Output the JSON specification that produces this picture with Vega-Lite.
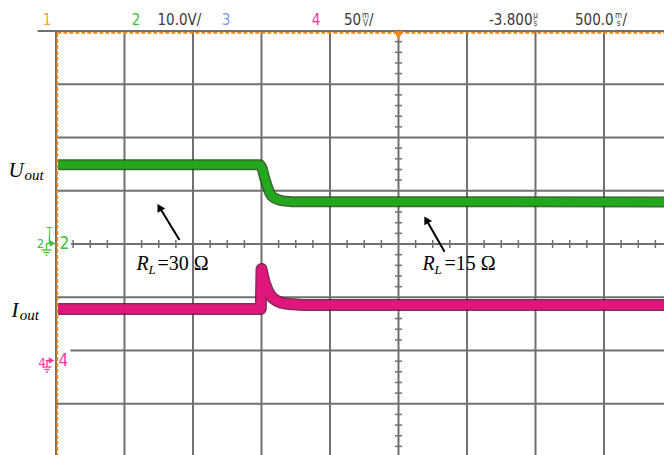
{
"$schema": "https://vega.github.io/schema/vega-lite/v6.json",
"width": 608, "height": 424,
"padding": {"left": 56, "top": 31, "right": 0, "bottom": 0},
"autosize": {"type": "none"},
"background": "white",
"config": {"view": {"stroke": null}},
"datasets": {
 "grid": [
  {"x":0,"x2":0,"y":-3.962,"y2":4},
  {"x":-0.27,"x2":8.876,"y":4,"y2":4},
  {"x":1,"x2":1,"y":-3.962,"y2":4},
  {"x":2,"x2":2,"y":-3.962,"y2":4},
  {"x":3,"x2":3,"y":-3.962,"y2":4},
  {"x":4,"x2":4,"y":-3.962,"y2":4},
  {"x":5,"x2":5,"y":-3.962,"y2":4},
  {"x":6,"x2":6,"y":-3.962,"y2":4},
  {"x":7,"x2":7,"y":-3.962,"y2":4},
  {"x":8,"x2":8,"y":-3.962,"y2":4},
  {"x":0,"x2":8.876,"y":3,"y2":3},
  {"x":0,"x2":8.876,"y":2,"y2":2},
  {"x":0,"x2":8.876,"y":1,"y2":1},
  {"x":0.22,"x2":8.876,"y":0,"y2":0},
  {"x":0,"x2":8.876,"y":-1,"y2":-1},
  {"x":0.21,"x2":8.876,"y":-2,"y2":-2},
  {"x":0,"x2":8.876,"y":-3,"y2":-3}
 ],
 "orange": [
  {"x":0.019,"x2":8.876,"y":3.964,"y2":3.964},
  {"x":0.019,"x2":0.019,"y":3.964,"y2":-3.962}
 ],
 "ticksH": [
  {"x":0.25,"y":0},{"x":0.5,"y":0},{"x":0.75,"y":0},
  {"x":1.25,"y":0},{"x":1.5,"y":0},{"x":1.75,"y":0},
  {"x":2.25,"y":0},{"x":2.5,"y":0},{"x":2.75,"y":0},
  {"x":3.25,"y":0},{"x":3.5,"y":0},{"x":3.75,"y":0},
  {"x":4.25,"y":0},{"x":4.5,"y":0},{"x":4.75,"y":0},
  {"x":5.25,"y":0},{"x":5.5,"y":0},{"x":5.75,"y":0},
  {"x":6.25,"y":0},{"x":6.5,"y":0},{"x":6.75,"y":0},
  {"x":7.25,"y":0},{"x":7.5,"y":0},{"x":7.75,"y":0},
  {"x":8.25,"y":0},{"x":8.5,"y":0},{"x":8.75,"y":0}
 ],
 "ticksV": [
  {"x":5,"y":3.8},{"x":5,"y":3.6},{"x":5,"y":3.4},{"x":5,"y":3.2},
  {"x":5,"y":2.8},{"x":5,"y":2.6},{"x":5,"y":2.4},{"x":5,"y":2.2},
  {"x":5,"y":1.8},{"x":5,"y":1.6},{"x":5,"y":1.4},{"x":5,"y":1.2},
  {"x":5,"y":0.8},{"x":5,"y":0.6},{"x":5,"y":0.4},{"x":5,"y":0.2},
  {"x":5,"y":-0.2},{"x":5,"y":-0.4},{"x":5,"y":-0.6},{"x":5,"y":-0.8},
  {"x":5,"y":-1.2},{"x":5,"y":-1.4},{"x":5,"y":-1.6},{"x":5,"y":-1.8},
  {"x":5,"y":-2.2},{"x":5,"y":-2.4},{"x":5,"y":-2.6},{"x":5,"y":-2.8},
  {"x":5,"y":-3.2},{"x":5,"y":-3.4},{"x":5,"y":-3.6},{"x":5,"y":-3.8}
 ],
 "uout": [
  {"x":0.03,"y":1.49},{"x":2.98,"y":1.49},{"x":3.01,"y":1.42},{"x":3.044,"y":1.25},
  {"x":3.08,"y":1.10},{"x":3.117,"y":0.97},{"x":3.15,"y":0.90},{"x":3.19,"y":0.86},
  {"x":3.25,"y":0.83},{"x":3.31,"y":0.81},{"x":3.45,"y":0.795},{"x":8.876,"y":0.79}
 ],
 "iout": [
  {"x":0.03,"y":-1.22},{"x":2.99,"y":-1.22},{"x":3.0,"y":-0.47},{"x":3.044,"y":-0.71},
  {"x":3.08,"y":-0.84},{"x":3.117,"y":-0.94},{"x":3.16,"y":-1.01},{"x":3.214,"y":-1.06},
  {"x":3.28,"y":-1.10},{"x":3.36,"y":-1.12},{"x":3.6,"y":-1.146},{"x":8.876,"y":-1.146}
 ],
 "trig": [{"x":5,"y":3.916}],
 "hdrDigits": [
  {"x":-0.131,"y":4.113,"t":"1","ch":"1"},
  {"x":1.168,"y":4.113,"t":"2","ch":"2"},
  {"x":2.482,"y":4.113,"t":"3","ch":"3"},
  {"x":3.796,"y":4.113,"t":"4","ch":"4"}
 ],
 "hdrText": [
  {"x":1.482,"y":4.113,"t":"10.0V/"},
  {"x":4.204,"y":4.113,"t":"50"},
  {"x":4.569,"y":4.113,"t":"/"},
  {"x":6.321,"y":4.113,"t":"-3.800"},
  {"x":7.577,"y":4.113,"t":"500.0"},
  {"x":8.270,"y":4.113,"t":"/"}
 ],
 "hdrSmall": [
  {"x":4.518,"y":4.244,"t":"m"},{"x":4.518,"y":4.094,"t":"V"},
  {"x":7.0,"y":4.244,"t":"µ"},{"x":7.0,"y":4.094,"t":"s"},
  {"x":8.212,"y":4.244,"t":"m"},{"x":8.212,"y":4.094,"t":"s"}
 ],
 "chSmall": [
  {"x":-0.226,"y":-0.075,"t":"2","ch":"2"},
  {"x":-0.204,"y":-2.31,"t":"4","ch":"4"}
 ],
 "chBig": [
  {"x":0.051,"y":-0.094,"t":"2","ch":"2"},
  {"x":0.036,"y":-2.291,"t":"4","ch":"4"}
 ],
 "chT": [{"x":-0.095,"y":0.169,"t":"T","ch":"2"}],
 "chTri": [
  {"x":-0.051,"y":0.009,"ch":"2"},
  {"x":-0.066,"y":-2.188,"ch":"4"}
 ],
 "chLines": [
  {"x":-0.095,"x2":-0.095,"y":0.17,"y2":0.009,"ch":"2"},
  {"x":-0.139,"x2":-0.06,"y":0.009,"y2":0.009,"ch":"2"},
  {"x":-0.139,"x2":-0.139,"y":0.009,"y2":-0.113,"ch":"2"},
  {"x":-0.212,"x2":-0.066,"y":-0.113,"y2":-0.113,"ch":"2"},
  {"x":-0.182,"x2":-0.095,"y":-0.160,"y2":-0.160,"ch":"2"},
  {"x":-0.153,"x2":-0.124,"y":-0.207,"y2":-0.207,"ch":"2"},
  {"x":-0.153,"x2":-0.07,"y":-2.188,"y2":-2.188,"ch":"4"},
  {"x":-0.131,"x2":-0.131,"y":-2.188,"y2":-2.310,"ch":"4"},
  {"x":-0.197,"x2":-0.066,"y":-2.310,"y2":-2.310,"ch":"4"},
  {"x":-0.168,"x2":-0.095,"y":-2.357,"y2":-2.357,"ch":"4"},
  {"x":-0.146,"x2":-0.117,"y":-2.404,"y2":-2.404,"ch":"4"}
 ],
 "bigItal": [
  {"x":-0.693,"y":1.258,"t":"U"},
  {"x":-0.650,"y":-1.371,"t":"I"}
 ],
 "subItal": [
  {"x":-0.46,"y":1.202,"t":"out"},
  {"x":-0.53,"y":-1.427,"t":"out"}
 ],
 "rItal": [
  {"x":1.175,"y":-0.488,"t":"R"},
  {"x":5.350,"y":-0.488,"t":"R"}
 ],
 "lSub": [
  {"x":1.35,"y":-0.563,"t":"L"},
  {"x":5.525,"y":-0.563,"t":"L"}
 ],
 "eqText": [
  {"x":1.482,"y":-0.488,"t":"=30 Ω"},
  {"x":5.672,"y":-0.488,"t":"=15 Ω"}
 ],
 "arrowLines": [
  {"x":1.803,"y":0.075,"x2":1.520,"y2":0.670},
  {"x":5.672,"y":-0.145,"x2":5.416,"y2":0.432}
 ],
 "arrowHeads": [
  {"x":1.510,"y":0.690},
  {"x":5.405,"y":0.455}
 ]
},
"encoding": {
 "x": {"field":"x","type":"quantitative","scale":{"domain":[0,8.876],"nice":false,"zero":false},"axis":null},
 "y": {"field":"y","type":"quantitative","scale":{"domain":[-3.962,4],"nice":false,"zero":false},"axis":null}
},
"layer": [
 {"data":{"name":"grid"},"mark":{"type":"rule","color":"#707070","strokeWidth":2},
  "encoding":{"x2":{"field":"x2"},"y2":{"field":"y2"}}},
 {"data":{"name":"ticksH"},"mark":{"type":"tick","orient":"vertical","size":8,"thickness":1.5,"color":"#707070","opacity":1}},
 {"data":{"name":"ticksV"},"mark":{"type":"tick","orient":"horizontal","size":7,"thickness":1.5,"color":"#707070","opacity":1}},
 {"data":{"name":"uout"},"mark":{"type":"line","color":"#1c4a12","strokeWidth":11,"strokeJoin":"round","opacity":0.85},"encoding":{}},
 {"data":{"name":"uout"},"mark":{"type":"line","color":"#22a81c","strokeWidth":8,"strokeJoin":"round"},"encoding":{}},
 {"data":{"name":"iout"},"mark":{"type":"line","color":"#6e0c3c","strokeWidth":12,"strokeJoin":"round","opacity":0.85},"encoding":{}},
 {"data":{"name":"iout"},"mark":{"type":"line","color":"#e0167c","strokeWidth":9,"strokeJoin":"round"},"encoding":{}},
 {"data":{"name":"orange"},"mark":{"type":"rule","color":"#e88a1a","strokeWidth":1.8,"strokeDash":[4,2]},
  "encoding":{"x2":{"field":"x2"},"y2":{"field":"y2"}}},
 {"data":{"name":"trig"},"mark":{"type":"point","shape":"triangle-down","filled":true,"size":90,"color":"#f08a14","opacity":1}},
 {"data":{"name":"hdrDigits"},"mark":{"type":"text","font":"DejaVu Sans Condensed","fontSize":15,"align":"center","baseline":"alphabetic"},
  "encoding":{"text":{"field":"t"},"color":{"field":"ch","type":"nominal","scale":{"domain":["1","2","3","4"],"range":["#f0a040","#3cc03c","#7b98f0","#f0389a"]},"legend":null}}},
 {"data":{"name":"hdrText"},"mark":{"type":"text","font":"DejaVu Sans Condensed","fontSize":15,"align":"left","baseline":"alphabetic","color":"#3a3a3a"},
  "encoding":{"text":{"field":"t"}}},
 {"data":{"name":"hdrSmall"},"mark":{"type":"text","font":"DejaVu Sans Condensed","fontSize":8,"align":"center","baseline":"alphabetic","color":"#3a3a3a"},
  "encoding":{"text":{"field":"t"}}},
 {"data":{"name":"chLines"},"mark":{"type":"rule","strokeWidth":1.3},
  "encoding":{"x2":{"field":"x2"},"y2":{"field":"y2"},"color":{"field":"ch","type":"nominal","legend":null}}},
 {"data":{"name":"chTri"},"mark":{"type":"point","shape":"triangle-right","filled":true,"size":40,"opacity":1},
  "encoding":{"color":{"field":"ch","type":"nominal","legend":null}}},
 {"data":{"name":"chSmall"},"mark":{"type":"text","font":"DejaVu Sans Condensed","fontSize":13,"align":"center","baseline":"alphabetic"},
  "encoding":{"text":{"field":"t"},"color":{"field":"ch","type":"nominal","legend":null}}},
 {"data":{"name":"chBig"},"mark":{"type":"text","font":"DejaVu Sans Condensed","fontSize":17,"align":"left","baseline":"alphabetic"},
  "encoding":{"text":{"field":"t"},"color":{"field":"ch","type":"nominal","legend":null}}},
 {"data":{"name":"chT"},"mark":{"type":"text","font":"DejaVu Sans Condensed","fontSize":10,"align":"center","baseline":"alphabetic"},
  "encoding":{"text":{"field":"t"},"color":{"field":"ch","type":"nominal","legend":null}}},
 {"data":{"name":"bigItal"},"mark":{"type":"text","font":"Liberation Serif","fontSize":21,"fontStyle":"italic","align":"left","baseline":"alphabetic","color":"black"},
  "encoding":{"text":{"field":"t"}}},
 {"data":{"name":"subItal"},"mark":{"type":"text","font":"Liberation Serif","fontSize":15,"fontStyle":"italic","align":"left","baseline":"alphabetic","color":"black"},
  "encoding":{"text":{"field":"t"}}},
 {"data":{"name":"rItal"},"mark":{"type":"text","font":"Liberation Serif","fontSize":20,"fontStyle":"italic","align":"left","baseline":"alphabetic","color":"black"},
  "encoding":{"text":{"field":"t"}}},
 {"data":{"name":"lSub"},"mark":{"type":"text","font":"Liberation Serif","fontSize":13,"fontStyle":"italic","align":"left","baseline":"alphabetic","color":"black"},
  "encoding":{"text":{"field":"t"}}},
 {"data":{"name":"eqText"},"mark":{"type":"text","font":"Liberation Serif","fontSize":20,"align":"left","baseline":"alphabetic","color":"black"},
  "encoding":{"text":{"field":"t"}}},
 {"data":{"name":"arrowLines"},"mark":{"type":"rule","color":"black","strokeWidth":2},
  "encoding":{"x2":{"field":"x2"},"y2":{"field":"y2"}}},
 {"data":{"name":"arrowHeads"},"mark":{"type":"point","shape":"triangle-up","filled":true,"size":80,"angle":330,"color":"black","opacity":1}}
]
}
